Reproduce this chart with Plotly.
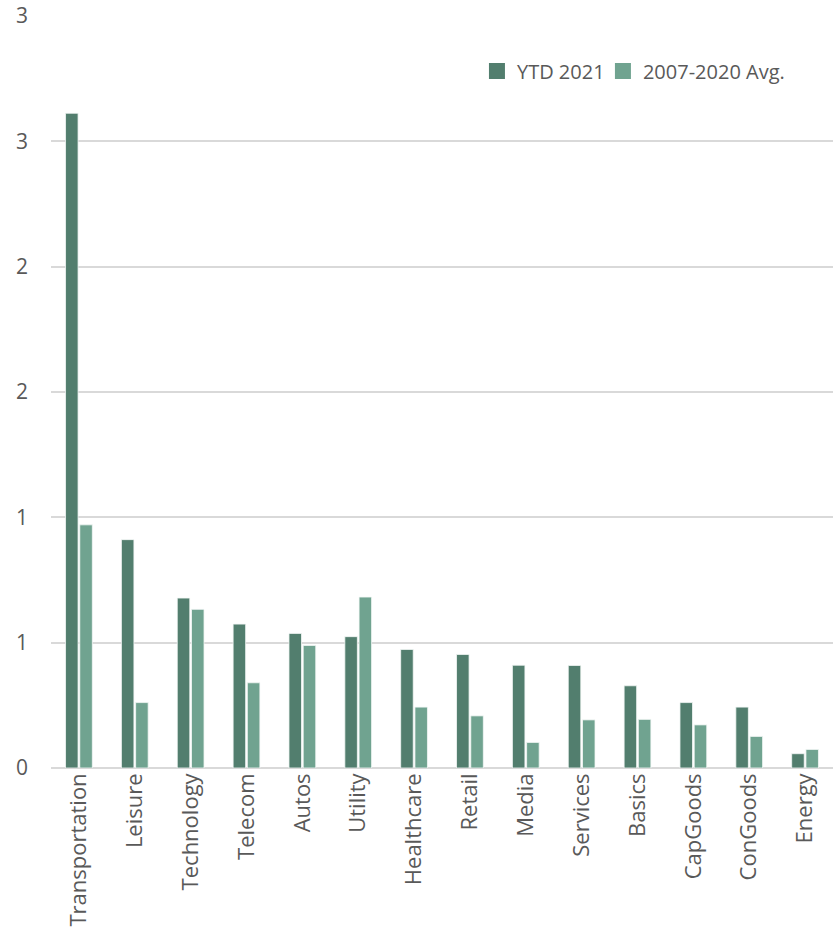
import plotly.graph_objects as go

categories = ["Transportation", "Leisure", "Technology", "Telecom", "Autos", "Utility",
              "Healthcare", "Retail", "Media", "Services", "Basics", "CapGoods",
              "ConGoods", "Energy"]
ytd_2021 = [2.612, 0.911, 0.678, 0.574, 0.537, 0.524, 0.473, 0.453, 0.410, 0.409,
            0.328, 0.261, 0.243, 0.057]
avg_2007_2020 = [0.970, 0.261, 0.633, 0.340, 0.489, 0.682, 0.243, 0.208, 0.102, 0.192,
                 0.194, 0.172, 0.126, 0.074]
y_tick_vals = [0, 0.5, 1.0, 1.5, 2.0, 2.5, 3.0]
y_tick_text = ["0", "1", "1", "2", "2", "3", "3"]
series_names = ["YTD 2021", "2007-2020 Avg."]

dark = "#527E6E"
light = "#70A390"
font_family = "Open Sans"
text_color = "#595959"
edge = "#f4f7f6"

fig = go.Figure()
for vals, name, col in [(ytd_2021, series_names[0], dark), (avg_2007_2020, series_names[1], light)]:
    fig.add_trace(go.Bar(x=categories, y=vals, name=name, showlegend=False,
                         marker=dict(color=col, line=dict(color=edge, width=0.8))))
# legend entries (square swatches), one legend box per entry
for name, col, lg in [(series_names[0], dark, "legend"), (series_names[1], light, "legend2")]:
    fig.add_trace(go.Scatter(x=[None], y=[None], mode="markers", name=name, legend=lg,
                             marker=dict(symbol="square", size=16, color=col)))

legend_common = dict(orientation="h", y=0.927, xanchor="left", yanchor="middle",
                     font=dict(size=20, color=text_color), bgcolor="rgba(0,0,0,0)")

fig.update_layout(
    width=839, height=928,
    margin=dict(l=51, r=6, t=16, b=160, autoexpand=False),
    paper_bgcolor="white", plot_bgcolor="white",
    font=dict(family=font_family, size=21, color=text_color),
    barmode="group", bargap=0.49, bargroupgap=0.12,
    showlegend=True,
    legend=dict(x=0.5447, **legend_common),
    legend2=dict(x=0.7058, **legend_common),
    xaxis=dict(type="category", tickangle=-90, showgrid=False, showline=False, ticks="",
               automargin=False, tickfont=dict(size=22, color=text_color)),
    yaxis=dict(range=[0, 3.0], tickvals=y_tick_vals, ticktext=y_tick_text,
               showgrid=True, gridcolor="#D9D9D9", gridwidth=1.5,
               zeroline=True, zerolinecolor="#D9D9D9", zerolinewidth=1.5,
               showline=False, ticks="", ticklabelstandoff=22, automargin=False,
               tickfont=dict(size=21, color=text_color)),
)

fig.write_html("out.html")
